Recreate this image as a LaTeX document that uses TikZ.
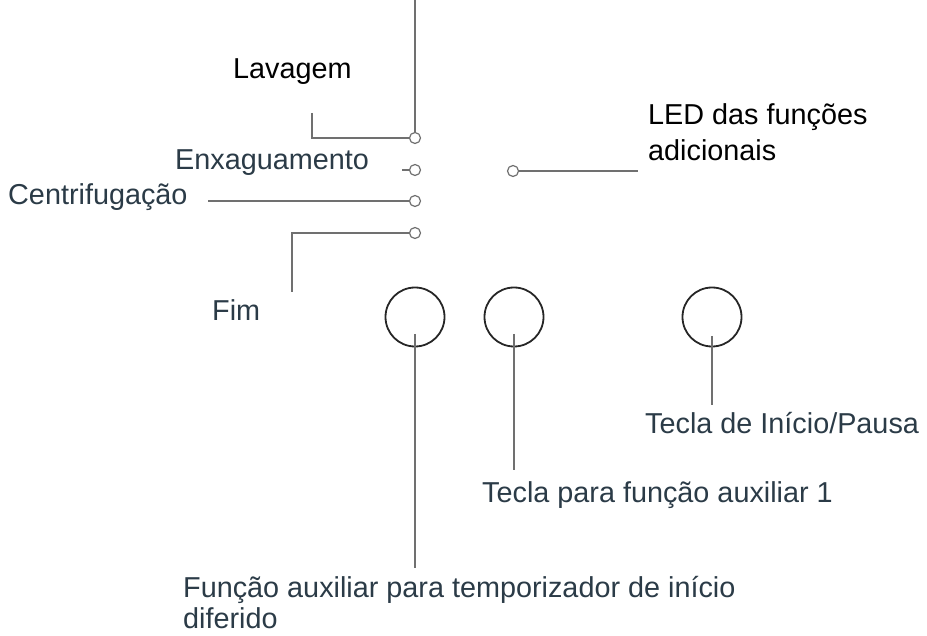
\documentclass[tikz,border=0pt]{standalone}
\usepackage{fontspec}
\setmainfont{Liberation Sans}
\usepackage{tikz}
\usetikzlibrary{positioning}
\definecolor{slate}{HTML}{2B3B47}
\definecolor{wiregray}{HTML}{707070}
\tikzset{
  led/.style={circle,draw=wiregray,line width=1.2pt,inner sep=0pt,minimum size=11pt},
  knob/.style={circle,draw=black!85,line width=1.8pt,inner sep=0pt,minimum size=59pt},
  lbl/.style={anchor=base west,inner sep=0pt,text=slate,font=\fontsize{28.8}{31}\selectfont},
  lead/.style={draw=wiregray,line width=1.4pt}
}
\begin{document}
\begin{tikzpicture}[x=1pt,y=-1pt]
		\useasboundingbox (0,0) rectangle (927,636);
		\node[led] (ledLav) at (415,138) {};
		\node[led] (ledEnx) at (415,170) {};
		\node[led] (ledCen) at (415,201) {};
		\node[led] (ledFim) at (415,233) {};
		\node[led] (ledAdd) at (513,171) {};
		\node[knob] (btnDelay) at (415,317) {};
		\node[knob] (btnAux) at (514,317) {};
		\node[knob] (btnStart) at (712,317) {};
		\node[lbl,text=black] (lLav) at (233,79) {Lavagem};
		\node[lbl] (lEnx) at (175,170) {Enxaguamento};
		\node[lbl] (lCen) at (8,205) {Centrifugação};
		\node[lbl] (lFim) at (212,321) {Fim};
		\node[lbl,text=black,align=left,font=\fontsize{28.8}{36}\selectfont] (lAdd) at (648,161) {LED das funções\\adicionais};
		\node[lbl] (lStart) at (645,433) {Tecla de Início/Pausa};
		\node[lbl] (lAux) at (482,502) {Tecla para função auxiliar 1};
		\node[lbl,align=left] (lDelay) at (183,628) {Função auxiliar para temporizador de início\\diferido};
		\coordinate (top) at (415,0);
		\coordinate (lavEnd) at (312,113);
		\coordinate (enxEnd) at (402,170);
		\coordinate (cenEnd) at (208,201);
		\coordinate (fimEnd) at (292,292);
		\coordinate (addEnd) at (638,171);
		\coordinate (delayEnd) at (415,568);
		\coordinate (auxEnd) at (514,470);
		\coordinate (startEnd) at (712,405);
		\draw[lead] (top) -- (ledLav);
		\draw[lead] (lavEnd) |- (ledLav);
		\draw[lead] (enxEnd) -- (ledEnx);
		\draw[lead] (cenEnd) -- (ledCen);
		\draw[lead] (fimEnd) |- (ledFim);
		\draw[lead] (ledAdd) -- (addEnd);
		\draw[lead] ([yshift=-17pt]btnDelay.center) -- (delayEnd);
		\draw[lead] ([yshift=-17pt]btnAux.center) -- (auxEnd);
		\draw[lead] ([yshift=-19pt]btnStart.center) -- (startEnd);
\end{tikzpicture}
\end{document}
